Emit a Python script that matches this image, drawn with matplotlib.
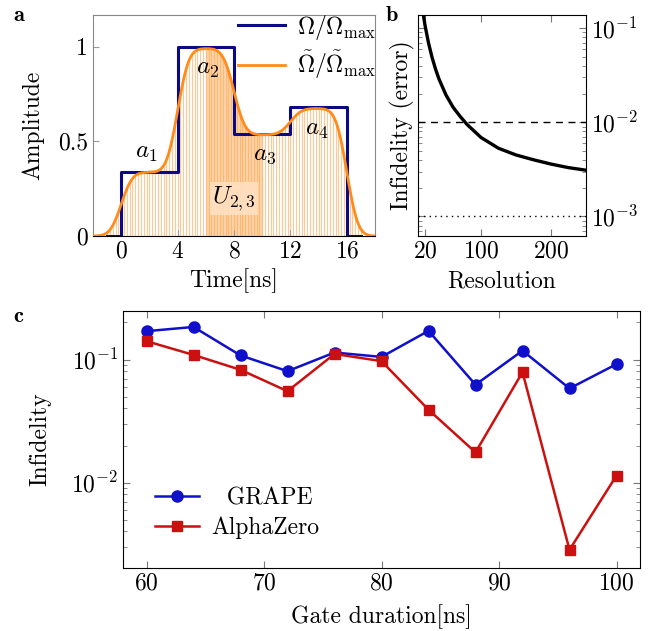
import numpy as np
import matplotlib
matplotlib.use('Agg')
import matplotlib.pyplot as plt
from matplotlib.ticker import LogLocator, NullFormatter

FS = 17
plt.rcParams.update({
    'font.family': 'serif', 'font.serif': ['cmr10'], 'mathtext.fontset': 'cm',
    'axes.formatter.use_mathtext': True, 'font.size': FS,
    'xtick.direction': 'in', 'ytick.direction': 'in',
    'axes.unicode_minus': True,
})

# ---------------- Panel a data ----------------
seg_edges = [0, 4, 8, 12, 16]
seg_amps = [0.34, 1.0, 0.54, 0.68]
seg_labels = ['$a_1$', '$a_2$', '$a_3$', '$a_4$']
seg_label_x = [1.8, 6.1, 10.2, 13.9]
seg_label_y = [0.44, 0.88, 0.43, 0.56]
filter_sigma = 0.62
sample_step = 0.2
highlight = (6, 10)

# ---------------- Panel b data ----------------
res_x = [17, 20, 25, 30, 35, 40, 50, 60, 70, 80, 100, 125, 150, 175, 200, 225, 250]
res_err = [0.148, 0.1075, 0.0697, 0.0492, 0.0368, 0.0288, 0.0195, 0.0145, 0.0116,
           0.0095, 0.0069, 0.0053, 0.0045, 0.0040, 0.0036, 0.0033, 0.0031]
thr_dash = 1e-2
thr_dot = 1e-3

# ---------------- Panel c data ----------------
durations = [60, 64, 68, 72, 76, 80, 84, 88, 92, 96, 100]
grape = [0.170, 0.184, 0.108, 0.0804, 0.114, 0.105, 0.171, 0.0624, 0.118, 0.0582, 0.0917]
alphazero = [0.141, 0.109, 0.0825, 0.0553, 0.111, 0.097, 0.0391, 0.0176, 0.0789, 0.00284, 0.0114]

W, H = 659, 631
fig = plt.figure(figsize=(W / 100, H / 100), dpi=100)

def rect(l, t, r, b):
    return [l / W, 1 - b / H, (r - l) / W, (b - t) / H]

# ================= Panel a =================
ax = fig.add_axes(rect(93, 15, 375, 236))
t = np.arange(-3, 19, 0.01)
step = np.zeros_like(t)
for i, a in enumerate(seg_amps):
    step[(t >= seg_edges[i]) & (t < seg_edges[i + 1])] = a
dt = t[1] - t[0]
kx = np.arange(-4 * filter_sigma, 4 * filter_sigma + dt, dt)
kern = np.exp(-0.5 * (kx / filter_sigma) ** 2)
kern /= kern.sum()
smooth = np.convolve(step, kern, mode='same') * 0.99

ts = np.arange(-1, 17.001, sample_step)
hs = np.interp(ts, t, smooth)
ax.vlines(ts, 0, hs, color='#ffc894', lw=0.8, zorder=1)
m = (t >= highlight[0]) & (t <= highlight[1])
ax.fill_between(t[m], 0, smooth[m], color='#ffa850', alpha=0.5, lw=0, zorder=1)

sx = [-1] + seg_edges + [17]
sy = [0] + seg_amps + [0, 0]
ax.step(sx, sy, where='post', color='#0a0a85', lw=2.2, zorder=3,
        label=r'$\Omega/\Omega_{\max}$')
ax.plot(t, smooth, color='#ff8c1a', lw=2.0, zorder=4,
        label=r'$\tilde{\Omega}/\tilde{\Omega}_{\max}$')
for lx, ly, s in zip(seg_label_x, seg_label_y, seg_labels):
    ax.text(lx, ly, s, ha='center', va='center', fontsize=FS + 1, zorder=5)
ax.text(8, 0.2, '$U_{2,3}$', ha='center', va='center', fontsize=FS + 1, zorder=5,
        bbox=dict(facecolor='#ffe0c2', edgecolor='none', pad=1.5, alpha=0.9))
ax.set_xlim(-2, 18)
ax.set_ylim(0, 1.167)
ax.set_xticks([0, 4, 8, 12, 16])
ax.set_yticks([0, 0.5, 1])
ax.set_yticklabels(['0', '0.5', '1'])
ax.tick_params(color='#999999', length=4, labelsize=FS)
for s in ['top', 'right', 'left']:
    ax.spines[s].set_color('#888888')
ax.spines['bottom'].set_color('black')
ax.set_xlabel('Time[ns]', fontsize=FS, labelpad=4)
ax.set_ylabel('Amplitude', fontsize=FS, labelpad=10)
leg = ax.legend(loc='upper right', bbox_to_anchor=(1.055, 1.075), frameon=False,
                fontsize=FS, handlelength=2.0, handletextpad=0.5, labelspacing=0.3,
                borderaxespad=0.2)

# ================= Panel b =================
bx = fig.add_axes(rect(418, 15, 586, 236))
bx.plot(res_x, res_err, color='black', lw=2.4, zorder=3)
bx.axhline(thr_dash, color='black', lw=1.0, ls=(0, (5, 4)))
bx.axhline(thr_dot, color='black', lw=1.0, ls=(0, (1, 3)))
bx.set_yscale('log')
bx.set_xlim(10, 250)
bx.set_ylim(6.2e-4, 0.138)
bx.set_xticks([20, 100, 200])
bx.xaxis.set_ticks_position('both')
bx.yaxis.tick_right()
bx.yaxis.set_ticks_position('both')
bx.yaxis.set_label_position('left')
bx.yaxis.set_major_locator(LogLocator(base=10, numticks=10))
bx.yaxis.set_minor_locator(LogLocator(base=10, subs=np.arange(2, 10), numticks=10))
bx.yaxis.set_minor_formatter(NullFormatter())
bx.tick_params(which='both', color='#777777', labelsize=FS)
bx.tick_params(which='major', length=5)
bx.tick_params(which='minor', length=3)
bx.tick_params(axis='y', labelleft=False, labelright=True)
bx.set_xlabel('Resolution', fontsize=FS, labelpad=5)
bx.set_ylabel('Infidelity (error)', fontsize=FS, labelpad=2)

# ================= Panel c =================
cx = fig.add_axes(rect(123, 311, 640, 568))
cx.plot(durations, grape, color='#1010cc', lw=1.8, marker='o', ms=8, label='  GRAPE')
cx.plot(durations, alphazero, color='#cc1010', lw=1.8, marker='s', ms=7.5, label='AlphaZero')
cx.set_yscale('log')
cx.set_xlim(58, 102)
cx.set_ylim(2.02e-3, 0.248)
cx.set_xticks([60, 70, 80, 90, 100])
cx.xaxis.set_ticks_position('both')
cx.yaxis.set_ticks_position('both')
cx.yaxis.set_major_locator(LogLocator(base=10, numticks=10))
cx.yaxis.set_minor_locator(LogLocator(base=10, subs=np.arange(2, 10), numticks=10))
cx.yaxis.set_minor_formatter(NullFormatter())
cx.tick_params(which='both', color='#777777', labelsize=FS)
cx.tick_params(which='major', length=5)
cx.tick_params(which='minor', length=3)
cx.set_xlabel('Gate duration[ns]', fontsize=FS, labelpad=7)
cx.set_ylabel('Infidelity', fontsize=FS, labelpad=14)
cx.legend(loc='lower left', bbox_to_anchor=(0.02, 0.03), frameon=False, fontsize=FS,
          handlelength=1.9, handletextpad=0.5, labelspacing=0.3)

# panel letters
fig.text(13 / W, 1 - 21 / H, 'a', fontfamily='cmb10', fontsize=16, va='baseline')
fig.text(386 / W, 1 - 21 / H, 'b', fontfamily='cmb10', fontsize=16, va='baseline')
fig.text(13 / W, 1 - 322 / H, 'c', fontfamily='cmb10', fontsize=16, va='baseline')

fig.savefig('out.png', dpi=100)
